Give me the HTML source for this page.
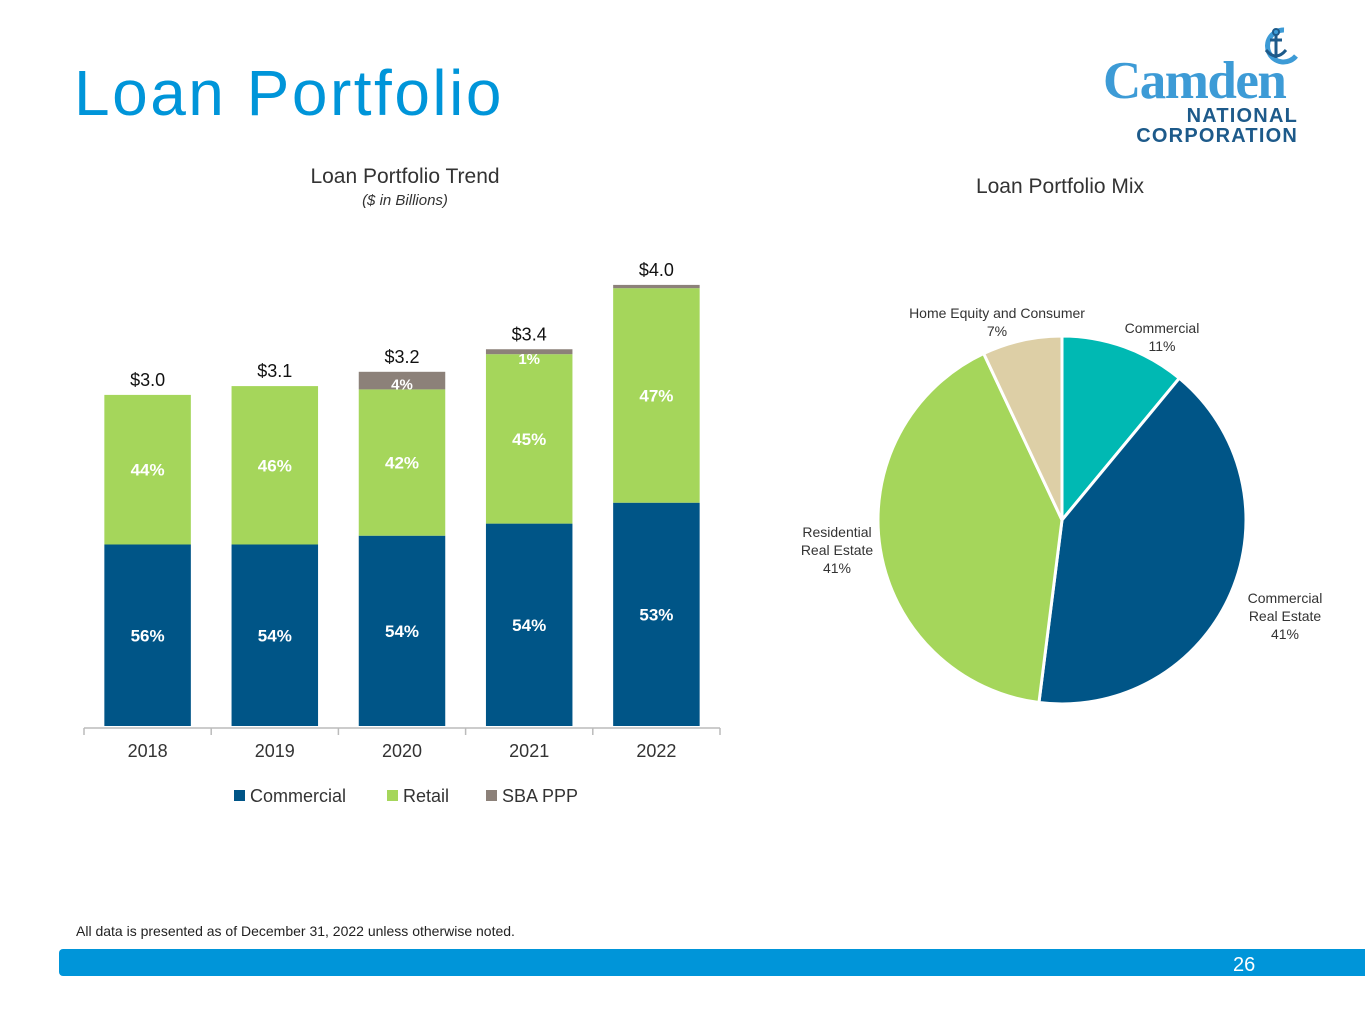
<!DOCTYPE html>
<html><head><meta charset="utf-8">
<style>
body{margin:0;width:1365px;height:1024px;background:#fff;font-family:"Liberation Sans",sans-serif;overflow:hidden;position:relative}
.abs{position:absolute}
</style></head>
<body>
<div class="abs" style="left:74px;top:56px;font-size:64px;color:#0095d9;letter-spacing:2.5px">Loan Portfolio</div>
<div class="abs" style="left:1100px;top:20px;width:200px;height:128px">
  <svg width="200" height="50" style="position:absolute;left:0;top:0">
    <path d="M184 10 A16 16 0 1 0 196 36" fill="none" stroke="#3d9bd6" stroke-width="5"/>
    <circle cx="176" cy="12" r="3" fill="none" stroke="#1d5a8a" stroke-width="2"/>
    <line x1="176" y1="15" x2="176" y2="38" stroke="#1d5a8a" stroke-width="3"/>
    <line x1="170" y1="20" x2="182" y2="20" stroke="#1d5a8a" stroke-width="3"/>
    <path d="M166 30 Q176 42 186 30" fill="none" stroke="#1d5a8a" stroke-width="3"/>
  </svg>
  <div class="abs" style="left:3px;top:36px;font-family:'Liberation Serif',serif;font-weight:bold;font-size:53px;color:#3d9bd6;letter-spacing:-1.5px;line-height:50px">Camden</div>
  <div class="abs" style="right:2px;top:86px;font-size:20px;font-weight:bold;color:#1d5a8a;letter-spacing:1.2px;line-height:20px;text-align:right">NATIONAL<br>CORPORATION</div>
</div>

<div class="abs" style="left:240px;top:165px;width:330px;text-align:center;font-size:21px;color:#333">Loan Portfolio Trend</div>
<div class="abs" style="left:240px;top:192px;width:330px;text-align:center;font-size:15px;font-style:italic;color:#333">($ in Billions)</div>
<div class="abs" style="left:900px;top:175px;width:320px;text-align:center;font-size:21px;color:#333">Loan Portfolio Mix</div>

<svg class="abs" id="bars" style="left:0;top:0" width="760" height="830"></svg>
<svg class="abs" id="pie" style="left:0;top:0;pointer-events:none" width="1365" height="830"></svg>

<div class="abs" style="left:76px;top:923px;font-size:14px;color:#222">All data is presented as of December 31, 2022 unless otherwise noted.</div>
<div class="abs" style="left:59px;top:949px;width:1306px;height:27px;background:#0095d9;border-radius:4px 0 0 4px"></div>
<div class="abs" style="left:1233px;top:954px;font-size:20px;color:#fff">26</div>

<script>
const years=["2018","2019","2020","2021","2022"];
const commercial=[1.65,1.65,1.73,1.84,2.03];
const retail=[1.36,1.44,1.33,1.54,1.95];
const sba=[0,0,0.16,0.045,0.03];
const totals=["$3.0","$3.1","$3.2","$3.4","$4.0"];
const comPct=["56%","54%","54%","54%","53%"];
const retPct=["44%","46%","42%","45%","47%"];
const sbaPct=["","","4%","1%",""];
const seriesNames=["Commercial","Retail","SBA PPP"];
const colors=["#005587","#a5d65b","#8c8179"];

const NS="http://www.w3.org/2000/svg";
function mk(svg,tag,attrs,text){const e=document.createElementNS(NS,tag);for(const k in attrs)e.setAttribute(k,attrs[k]);if(text!==undefined)e.textContent=text;svg.appendChild(e);return e;}
const bs=document.getElementById('bars');
const x0=84,x1=720,base=726,scale=110;
const band=(x1-x0)/years.length;
const xb=i=>x0+band*i+band*0.16;
const bw=band*0.68;
const y=v=>base-v*scale;
const ax=mk(bs,'line',{x1:x0,x2:x1,y1:728,y2:728,stroke:'#bbb','stroke-width':1.5});

for(let i=0;i<=years.length;i++){const t=mk(bs,'line',{x1:x0+band*i,x2:x0+band*i,y1:728,y2:735,stroke:'#bbb','stroke-width':1.5});
}
years.forEach((yr,i)=>{
  const x=xb(i),cx=x+bw/2;
  const c=commercial[i],r=retail[i],s=sba[i];
  let e=mk(bs,'rect',{x:x,y:y(c),width:bw,height:c*scale,fill:colors[0]});
  
  e=mk(bs,'rect',{x:x,y:y(c+r),width:bw,height:r*scale,fill:colors[1]});
  
  if(s>0){e=mk(bs,'rect',{x:x,y:y(c+r+s),width:bw,height:s*scale,fill:colors[2]});
  }
  e=mk(bs,'text',{x:cx,y:(y(c)+base)/2+6,'text-anchor':'middle','font-size':17,'font-weight':'bold',fill:'#fff'},comPct[i]);
  
  e=mk(bs,'text',{x:cx,y:(y(c)+y(c+r))/2+6,'text-anchor':'middle','font-size':17,'font-weight':'bold',fill:'#fff'},retPct[i]);
  
  if(sbaPct[i]){e=mk(bs,'text',{x:cx,y:y(c+r)+(s>0.1?0:10),'text-anchor':'middle','font-size':15,'font-weight':'bold',fill:'#fff'},sbaPct[i]);
  }
  e=mk(bs,'text',{x:cx,y:y(c+r+s)-9,'text-anchor':'middle','font-size':18,fill:'#111'},totals[i]);
  
  e=mk(bs,'text',{x:x0+band*i+band/2,y:757,'text-anchor':'middle','font-size':18,fill:'#333'},yr);
  
});
const lgx=[234,387,486];
seriesNames.forEach((n,i)=>{
  let e=mk(bs,'rect',{x:lgx[i],y:790,width:11,height:11,fill:colors[i]});
  
  e=mk(bs,'text',{x:lgx[i]+16,y:802,'font-size':18,fill:'#333'},n);
  
});

// pie
const pieLabels=["Commercial","Commercial Real Estate","Residential Real Estate","Home Equity and Consumer"];
const pieValues=[11,41,41,7];
const pieColors=["#00b9b3","#005587","#a5d65b","#ddcfa6"];
const ps=document.getElementById('pie');
const pcx=1062,pcy=520,pr=184;
const tot=pieValues.reduce((a,b)=>a+b,0);
let acc=0;
pieValues.forEach((v,i)=>{
  const a0=acc/tot*2*Math.PI;acc+=v;const a1=acc/tot*2*Math.PI;
  const p=a=>[pcx+pr*Math.sin(a),pcy-pr*Math.cos(a)];
  const [sx,sy]=p(a0),[ex,ey]=p(a1);
  const e=mk(ps,'path',{d:`M${pcx},${pcy} L${sx},${sy} A${pr},${pr} 0 ${a1-a0>Math.PI?1:0} 1 ${ex},${ey} Z`,fill:pieColors[i],stroke:'#fff','stroke-width':3});
  
});
const pl=[
 {x:1162,y:[328,346],t:["Commercial","11%"]},
 {x:1285,y:[598,616,634],t:["Commercial","Real Estate","41%"]},
 {x:837,y:[532,550,568],t:["Residential","Real Estate","41%"]},
 {x:997,y:[313,331],t:["Home Equity and Consumer","7%"]}];
pl.forEach((l,i)=>{l.t.forEach((s,j)=>{
  const lab=j===l.t.length-1?pieValues[i]+'%':s;
  const e=mk(ps,'text',{x:l.x,y:l.y[j]+5,'text-anchor':'middle','font-size':14,fill:'#333'},lab);
  
});});
</script>
</body></html>
